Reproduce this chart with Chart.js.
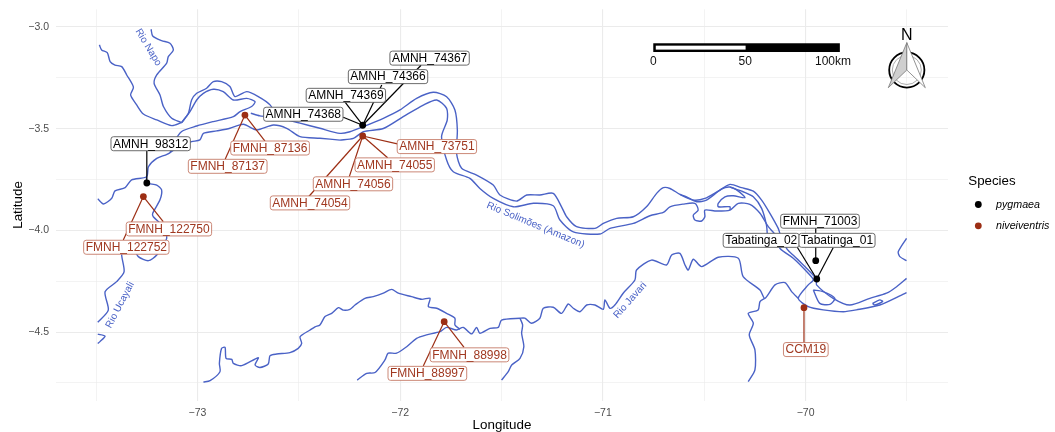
<!DOCTYPE html>
<html>
<head>
<meta charset="utf-8">
<title>Species records along the Solimões</title>
<script src="https://cdn.jsdelivr.net/npm/chart.js@4"></script>
<style>
  html, body { margin: 0; padding: 0; background: #fff; }
  canvas { display: block; }
</style>
</head>
<body>
<canvas id="mapa" width="1055" height="432"></canvas>
<script>
// rivers, [lon, lat]
const rioNapoWest = [[-73.484,-3.088],[-73.473,-3.113],[-73.445,-3.126],[-73.431,-3.170],[-73.407,-3.187],[-73.374,-3.195],[-73.349,-3.236],[-73.316,-3.296],[-73.330,-3.334],[-73.300,-3.383],[-73.267,-3.428],[-73.201,-3.457],[-73.127,-3.485],[-73.078,-3.470]];
const rioNapoEast = [[-73.229,-3.011],[-73.221,-3.044],[-73.177,-3.067],[-73.136,-3.080],[-73.119,-3.113],[-73.144,-3.146],[-73.152,-3.178],[-73.201,-3.236],[-73.214,-3.277],[-73.185,-3.334],[-73.168,-3.391],[-73.127,-3.449],[-73.078,-3.470]];
const napoOuterBend = [[-73.078,-3.470],[-73.045,-3.424],[-73.029,-3.359],[-73.004,-3.326],[-72.955,-3.301],[-72.922,-3.269],[-72.881,-3.269],[-72.840,-3.293],[-72.815,-3.342],[-72.757,-3.318],[-72.700,-3.342],[-72.642,-3.383],[-72.609,-3.441]];
const napoInnerBend = [[-73.078,-3.470],[-73.037,-3.416],[-73.004,-3.359],[-72.971,-3.326],[-72.922,-3.306],[-72.873,-3.318],[-72.823,-3.359],[-72.757,-3.351],[-72.716,-3.367],[-72.733,-3.391],[-72.790,-3.416],[-72.823,-3.441],[-72.922,-3.465],[-73.004,-3.487],[-73.078,-3.514],[-73.119,-3.572],[-73.136,-3.618],[-73.201,-3.646],[-73.242,-3.687],[-73.251,-3.736],[-73.325,-3.752],[-73.357,-3.790],[-73.407,-3.806],[-73.423,-3.842],[-73.464,-3.870],[-73.492,-3.845]];
const solimoesSouthWest = [[-73.136,-3.618],[-73.085,-3.585],[-73.029,-3.564],[-72.988,-3.555],[-72.971,-3.523],[-72.905,-3.511],[-72.840,-3.498],[-72.774,-3.478],[-72.708,-3.506],[-72.626,-3.482],[-72.560,-3.498],[-72.494,-3.539],[-72.396,-3.547],[-72.297,-3.556]];
const solimoesSouth = [[-72.297,-3.556],[-72.231,-3.548],[-72.182,-3.515],[-72.083,-3.499],[-71.985,-3.441],[-71.886,-3.384],[-71.820,-3.359],[-71.771,-3.400],[-71.768,-3.458],[-71.796,-3.539],[-71.771,-3.654],[-71.738,-3.712],[-71.656,-3.744],[-71.607,-3.794],[-71.541,-3.843],[-71.442,-3.884],[-71.343,-3.867],[-71.245,-3.879],[-71.212,-3.949],[-71.146,-4.007],[-71.015,-4.018],[-70.965,-3.990],[-70.850,-3.966],[-70.768,-3.928],[-70.702,-3.912],[-70.669,-3.884],[-70.604,-3.871],[-70.546,-3.867],[-70.530,-3.900],[-70.554,-3.925],[-70.546,-3.949],[-70.513,-3.954],[-70.497,-3.933],[-70.497,-3.900],[-70.439,-3.905],[-70.373,-3.900],[-70.332,-3.867],[-70.275,-3.872],[-70.225,-3.916],[-70.184,-3.982],[-70.151,-4.020],[-70.127,-4.088],[-70.061,-4.137],[-69.987,-4.211],[-69.962,-4.244],[-69.987,-4.268],[-70.036,-4.334],[-69.987,-4.375],[-69.913,-4.391],[-69.814,-4.400],[-69.749,-4.391],[-69.634,-4.367],[-69.527,-4.318],[-69.502,-4.306]];
const solimoesNorth = [[-72.737,-3.424],[-72.692,-3.437],[-72.609,-3.444],[-72.494,-3.473],[-72.396,-3.498],[-72.297,-3.523],[-72.248,-3.515],[-72.182,-3.490],[-72.083,-3.449],[-72.001,-3.408],[-71.919,-3.351],[-71.837,-3.321],[-71.771,-3.343],[-71.730,-3.408],[-71.718,-3.507],[-71.722,-3.621],[-71.697,-3.695],[-71.623,-3.728],[-71.541,-3.777],[-71.508,-3.826],[-71.426,-3.856],[-71.376,-3.826],[-71.311,-3.826],[-71.245,-3.818],[-71.204,-3.884],[-71.179,-3.933],[-71.130,-3.982],[-71.039,-3.990],[-70.998,-3.966],[-70.932,-3.941],[-70.850,-3.933],[-70.785,-3.884],[-70.735,-3.818],[-70.702,-3.790],[-70.669,-3.794],[-70.620,-3.823],[-70.554,-3.851],[-70.497,-3.843],[-70.431,-3.807],[-70.373,-3.774],[-70.316,-3.790],[-70.258,-3.807],[-70.217,-3.851],[-70.176,-3.916],[-70.135,-3.990],[-70.127,-4.014],[-70.094,-4.088],[-70.045,-4.137],[-69.971,-4.211],[-69.946,-4.244],[-69.946,-4.268],[-69.864,-4.334],[-69.782,-4.367],[-69.683,-4.334],[-69.601,-4.309],[-69.551,-4.277],[-69.502,-4.236]];
const tabatingaStrandA = [[-70.620,-3.823],[-70.587,-3.835],[-70.538,-3.859],[-70.489,-3.851],[-70.415,-3.797],[-70.373,-3.787],[-70.332,-3.807],[-70.299,-3.839],[-70.357,-3.830],[-70.398,-3.835],[-70.431,-3.867],[-70.431,-3.884],[-70.373,-3.884],[-70.373,-3.900]];
const tabatingaStrandB = [[-70.373,-3.787],[-70.308,-3.810],[-70.258,-3.835],[-70.217,-3.892],[-70.193,-3.974],[-70.189,-4.020]];
const tabatingaIsland = [[-69.962,-4.293],[-69.930,-4.359],[-69.880,-4.364],[-69.856,-4.334],[-69.913,-4.301],[-69.962,-4.293]];
const smallIsland = [[-69.670,-4.359],[-69.634,-4.342],[-69.620,-4.350],[-69.658,-4.367],[-69.670,-4.359]];
const eastBend = [[-69.502,-4.039],[-69.543,-4.105],[-69.535,-4.129],[-69.502,-4.149]];
const rioJavari = [[-72.212,-4.736],[-72.165,-4.703],[-72.124,-4.699],[-72.075,-4.637],[-72.059,-4.604],[-72.018,-4.604],[-71.968,-4.572],[-71.919,-4.531],[-71.870,-4.514],[-71.804,-4.498],[-71.771,-4.477],[-71.722,-4.490],[-71.689,-4.477],[-71.648,-4.509],[-71.623,-4.477],[-71.607,-4.506],[-71.557,-4.482],[-71.516,-4.477],[-71.500,-4.441],[-71.409,-4.432],[-71.385,-4.432],[-71.352,-4.457],[-71.311,-4.432],[-71.294,-4.383],[-71.245,-4.378],[-71.204,-4.408],[-71.171,-4.362],[-71.146,-4.383],[-71.113,-4.400],[-71.080,-4.367],[-71.039,-4.367],[-70.998,-4.388],[-70.990,-4.342],[-70.965,-4.383],[-70.941,-4.367],[-70.900,-4.309],[-70.842,-4.244],[-70.834,-4.195],[-70.760,-4.146],[-70.686,-4.170],[-70.661,-4.121],[-70.620,-4.113],[-70.595,-4.170],[-70.579,-4.195],[-70.554,-4.142],[-70.513,-4.178],[-70.431,-4.132],[-70.332,-4.137],[-70.308,-4.227],[-70.225,-4.293],[-70.201,-4.334],[-70.151,-4.268],[-70.102,-4.257],[-70.069,-4.301],[-70.036,-4.334]];
const javariSouth = [[-70.201,-4.334],[-70.225,-4.350],[-70.234,-4.391],[-70.283,-4.408],[-70.258,-4.457],[-70.278,-4.514],[-70.250,-4.588],[-70.250,-4.686],[-70.283,-4.744]];
const javariWest = [[-72.971,-4.746],[-72.938,-4.739],[-72.889,-4.695],[-72.892,-4.654],[-72.881,-4.580],[-72.864,-4.575],[-72.859,-4.629],[-72.831,-4.634],[-72.823,-4.654],[-72.782,-4.665],[-72.700,-4.626],[-72.716,-4.662],[-72.692,-4.674],[-72.651,-4.657],[-72.642,-4.616],[-72.609,-4.608],[-72.544,-4.601],[-72.503,-4.580],[-72.486,-4.556],[-72.494,-4.523],[-72.445,-4.490],[-72.420,-4.474],[-72.396,-4.465],[-72.371,-4.424],[-72.338,-4.408],[-72.305,-4.380],[-72.281,-4.392],[-72.248,-4.388],[-72.223,-4.367],[-72.174,-4.334],[-72.133,-4.326],[-72.083,-4.309],[-72.042,-4.290],[-72.009,-4.309],[-71.944,-4.326],[-71.894,-4.339],[-71.853,-4.334],[-71.861,-4.375],[-71.820,-4.383],[-71.771,-4.408],[-71.730,-4.432],[-71.730,-4.465],[-71.705,-4.486]];
const javariTributary = [[-71.409,-4.432],[-71.396,-4.465],[-71.401,-4.506],[-71.390,-4.572],[-71.409,-4.629],[-71.450,-4.662],[-71.467,-4.695],[-71.500,-4.736]];
const rioUcayali = [[-73.251,-3.736],[-73.250,-3.767],[-73.201,-3.777],[-73.177,-3.801],[-73.185,-3.850],[-73.221,-3.916],[-73.218,-3.933],[-73.168,-3.982],[-73.152,-4.039],[-73.201,-4.121],[-73.242,-4.149],[-73.292,-4.129],[-73.325,-4.080],[-73.374,-4.105],[-73.362,-4.203],[-73.399,-4.252],[-73.456,-4.302],[-73.440,-4.392],[-73.492,-4.452]];
const ucayaliStub = [[-73.492,-4.510],[-73.456,-4.520],[-73.481,-4.547],[-73.492,-4.556]];
const riverReaches = [rioNapoWest, rioNapoEast, napoOuterBend, napoInnerBend, solimoesSouthWest, solimoesSouth, solimoesNorth, tabatingaStrandA, tabatingaStrandB, tabatingaIsland, smallIsland, eastBend, rioJavari, javariSouth, javariWest, javariTributary, rioUcayali, ucayaliStub];

// sampling sites
const speciesNames = ['pygmaea', 'niveiventris'];
const pygmaeaLon = [-73.25, -72.185, -69.95, -69.945];
const pygmaeaLat = [-3.767, -3.483, -4.149, -4.239];
const niveiventrisLon = [-73.267, -72.766, -72.185, -71.783, -70.008];
const niveiventrisLat = [-3.834, -3.433, -3.536, -4.449, -4.38];

// specimen labels: species index, site index, where the repelled label sits, where its leader ends
const labelNames = ['AMNH_98312','AMNH_74368','AMNH_74369','AMNH_74366','AMNH_74367','FMNH_71003','Tabatinga_02','Tabatinga_01','FMNH_122750','FMNH_122752','FMNH_87136','FMNH_87137','AMNH_73751','AMNH_74055','AMNH_74056','AMNH_74054','FMNH_88998','FMNH_88997','CCM19'];
const labelSpecies = [0,0,0,0,0,0,0,0,1,1,1,1,1,1,1,1,1,1,1];
const labelSite = [0,1,1,1,1,2,3,3,0,0,1,1,2,2,2,2,3,3,4];
const labelLon = [-73.231,-72.478,-72.268,-72.060,-71.855,-69.929,-70.219,-69.845,-73.141,-73.351,-72.642,-72.851,-71.819,-72.027,-72.233,-72.445,-71.658,-71.866,-69.999];
const labelLat = [-3.574,-3.429,-3.336,-3.244,-3.153,-3.955,-4.049,-4.049,-3.993,-4.083,-3.595,-3.685,-3.588,-3.678,-3.771,-3.865,-4.612,-4.703,-4.586];
const leaderLon = [-73.25,-72.281,-72.272,-72.091,-71.897,-69.95,-70.041,-69.864,-73.169,-73.366,-72.667,-72.864,-72.014,-72.062,-72.251,-72.453,-71.685,-71.886,-70.008];
const leaderLat = [-3.61,-3.444,-3.369,-3.285,-3.188,-3.988,-4.083,-4.085,-3.957,-4.047,-3.561,-3.651,-3.575,-3.643,-3.736,-3.836,-4.575,-4.667,-4.556];

// river names
const riverNames = ['Rio Napo', 'Rio Solimões (Amazon)', 'Rio Ucayali', 'Rio Javari'];
const riverNameLon = [-73.243, -71.332, -73.382, -70.866];
const riverNameLat = [-3.100, -3.974, -4.367, -4.344];
const riverNameAngle = [59, 22.5, -62.5, -48.5];

// scale bar
const scaleBarLon = [-70.7515, -70.296, -69.831];
const scaleBarLat = [-3.080, -3.123];
const scaleBarText = ['0', '50', '100km'];
const scaleBarTextLon = [-70.7515, -70.298, -69.865];

const FONTE = '"Liberation Sans", Arial, sans-serif';
const COR_RIO = '#4a62c6';
const CORES = ['#000000', '#9c2e14'];
const CORES_BORDA = ['#5a5a5a', '#c57a68'];
const CORES_TEXTO = ['#000000', '#a03820'];

const siteLon = [pygmaeaLon, niveiventrisLon];
const siteLat = [pygmaeaLat, niveiventrisLat];

function emPontos(lons, lats) {
    return lons.map((lon, i) => ({ x: lon, y: lats[i] }));
}

const datasets = [];
speciesNames.forEach((nome, s) => {
    datasets.push({
        label: nome,
        data: emPontos(siteLon[s], siteLat[s]),
        showLine: false,
        pointRadius: 3.4,
        pointHoverRadius: 3.4,
        pointBackgroundColor: CORES[s],
        pointBorderWidth: 0
    });
});
// leader lines, under the points
labelNames.forEach((nome, i) => {
    const s = labelSpecies[i], k = labelSite[i];
    datasets.push({
        label: nome,
        data: [{ x: siteLon[s][k], y: siteLat[s][k] }, { x: leaderLon[i], y: leaderLat[i] }],
        showLine: true,
        borderColor: CORES[s],
        borderWidth: 1.2,
        pointRadius: 0
    });
});
riverReaches.forEach((trecho, i) => {
    datasets.push({
        label: 'rio' + i,
        data: trecho.map(p => ({ x: p[0], y: p[1] })),
        showLine: true,
        borderColor: COR_RIO,
        borderWidth: 1.4,
        tension: 0.25,
        pointRadius: 0
    });
});

const anotacoes = {
    id: 'anotacoes',
    afterDatasetsDraw(chart) {
        const ctx = chart.ctx;
        const x = chart.scales.x, y = chart.scales.y;
        ctx.save();
        ctx.textAlign = 'center';
        ctx.textBaseline = 'middle';

        // river names
        ctx.font = '10px ' + FONTE;
        ctx.fillStyle = COR_RIO;
        riverNames.forEach((nome, i) => {
            ctx.save();
            ctx.translate(x.getPixelForValue(riverNameLon[i]), y.getPixelForValue(riverNameLat[i]));
            ctx.rotate(riverNameAngle[i] * Math.PI / 180);
            ctx.fillText(nome, 0, 0);
            ctx.restore();
        });

        // specimen labels
        ctx.font = '12px ' + FONTE;
        labelNames.forEach((nome, i) => {
            const s = labelSpecies[i];
            const cx = x.getPixelForValue(labelLon[i]), cy = y.getPixelForValue(labelLat[i]);
            const w = ctx.measureText(nome).width + 4, h = 14;
            ctx.beginPath();
            ctx.roundRect(cx - w / 2, cy - h / 2, w, h, 2.5);
            ctx.fillStyle = '#fff';
            ctx.fill();
            ctx.lineWidth = 0.9;
            ctx.strokeStyle = CORES_BORDA[s];
            ctx.stroke();
            ctx.fillStyle = CORES_TEXTO[s];
            ctx.fillText(nome, cx, cy + 0.5);
        });

        // scale bar
        const bx0 = x.getPixelForValue(scaleBarLon[0]), bx1 = x.getPixelForValue(scaleBarLon[1]), bx2 = x.getPixelForValue(scaleBarLon[2]);
        const by0 = y.getPixelForValue(scaleBarLat[0]), by1 = y.getPixelForValue(scaleBarLat[1]);
        ctx.fillStyle = '#000';
        ctx.fillRect(bx0, by0, bx2 - bx0, by1 - by0);
        ctx.fillStyle = '#fff';
        ctx.fillRect(bx0 + 2.5, by0 + 2.4, bx1 - bx0 - 2.5, by1 - by0 - 4.8);
        ctx.fillStyle = '#111';
        ctx.font = '12px ' + FONTE;
        scaleBarText.forEach((t, i) => {
            ctx.fillText(t, x.getPixelForValue(scaleBarTextLon[i]), by1 + 10);
        });

        // north arrow
        const nx = 906.8, ny = 70;
        ctx.beginPath();
        ctx.arc(nx, ny, 17.6, 0, Math.PI * 2);
        ctx.lineWidth = 1.8;
        ctx.strokeStyle = '#000';
        ctx.stroke();
        ctx.beginPath();
        ctx.arc(nx, ny, 14.5, 0, Math.PI * 2);
        ctx.lineWidth = 0.7;
        ctx.strokeStyle = '#888';
        ctx.stroke();
        ctx.lineWidth = 0.8;
        ctx.strokeStyle = '#777';
        ctx.beginPath();
        ctx.moveTo(nx, ny - 27.3);
        ctx.lineTo(nx - 18.5, ny + 17.7);
        ctx.lineTo(nx, ny);
        ctx.closePath();
        ctx.fillStyle = '#cfcfcf';
        ctx.fill();
        ctx.stroke();
        ctx.beginPath();
        ctx.moveTo(nx, ny - 27.3);
        ctx.lineTo(nx + 18.5, ny + 17.7);
        ctx.lineTo(nx, ny);
        ctx.closePath();
        ctx.fillStyle = '#fff';
        ctx.fill();
        ctx.stroke();
        ctx.fillStyle = '#000';
        ctx.font = '16px ' + FONTE;
        ctx.fillText('N', nx, 36);

        // legend
        ctx.textAlign = 'left';
        ctx.font = '13.3px ' + FONTE;
        ctx.fillStyle = '#000';
        ctx.fillText('Species', 968.3, 181);
        ctx.font = 'italic 10.7px ' + FONTE;
        speciesNames.forEach((nome, s) => {
            const ly = 204.5 + s * 21.3;
            ctx.beginPath();
            ctx.arc(978.3, ly, 3.4, 0, Math.PI * 2);
            ctx.fillStyle = CORES[s];
            ctx.fill();
            ctx.fillStyle = '#000';
            ctx.fillText(nome, 996, ly + 0.5);
        });
        ctx.restore();
    }
};

function larguraGrade(ctx, passo) {
    const v = ctx.tick ? ctx.tick.value : 0;
    return Math.abs(v / passo - Math.round(v / passo)) < 1e-6 ? 1.1 : 0.6;
}

new Chart(document.getElementById('mapa'), {
    type: 'scatter',
    data: { datasets },
    plugins: [anotacoes],
    options: {
        responsive: false,
        animation: false,
        events: [],
        layout: { padding: { top: 9.3, right: 107, left: 0, bottom: 0 } },
        plugins: { legend: { display: false }, tooltip: { enabled: false } },
        scales: {
            x: {
                type: 'linear',
                min: -73.698,
                max: -69.2975,
                afterFit: s => { s.height = 31.4; s.paddingLeft = 0; s.paddingRight = 0; },
                border: { display: false },
                grid: { color: '#ebebeb', drawTicks: false, lineWidth: c => larguraGrade(c, 1) },
                ticks: {
                    stepSize: 0.5,
                    includeBounds: false,
                    autoSkip: false,
                    maxRotation: 0,
                    padding: 6,
                    color: '#4d4d4d',
                    font: { family: FONTE, size: 10.5 },
                    callback: v => Number.isInteger(v) ? '\u2212' + Math.abs(v) : ''
                },
                title: { display: true, text: 'Longitude', color: '#000', padding: 0, font: { family: FONTE, size: 13.4, lineHeight: 1 } }
            },
            y: {
                type: 'linear',
                min: -4.837,
                max: -2.913,
                afterFit: s => { s.width = 56; s.paddingTop = 0; s.paddingBottom = 0; },
                border: { display: false },
                grid: { color: '#ebebeb', drawTicks: false, lineWidth: c => larguraGrade(c, 0.5) },
                ticks: {
                    stepSize: 0.25,
                    includeBounds: false,
                    autoSkip: false,
                    padding: 7,
                    color: '#4d4d4d',
                    font: { family: FONTE, size: 10.5 },
                    callback: v => Number.isInteger(v * 2) ? '\u2212' + Math.abs(v).toFixed(1) : ''
                },
                title: { display: true, text: 'Latitude', color: '#000', padding: { top: 12, bottom: 0 }, font: { family: FONTE, size: 13.4, lineHeight: 1 } }
            }
        }
    }
});
</script>
</body>
</html>
